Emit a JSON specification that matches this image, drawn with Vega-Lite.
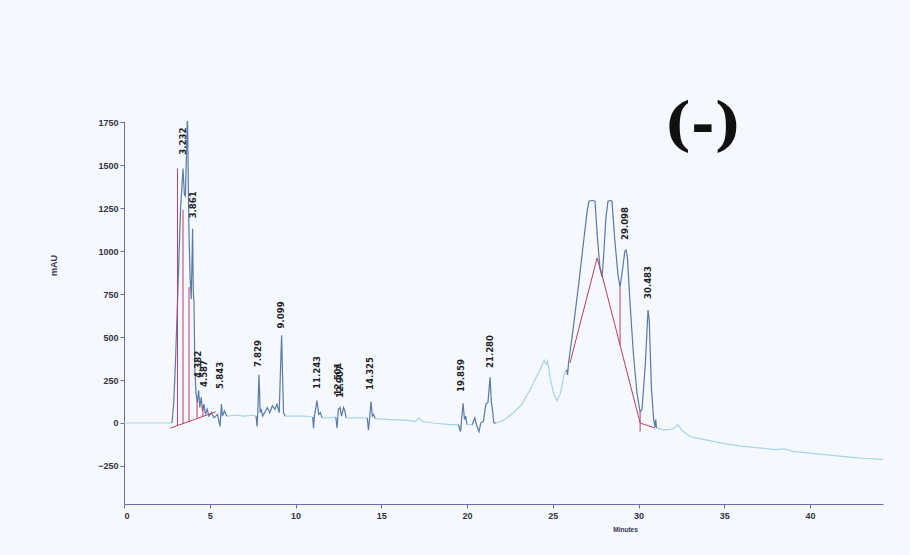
{
  "$schema": "https://vega.github.io/schema/vega-lite/v6.json",
  "width": 759,
  "height": 383,
  "autosize": "none",
  "padding": {"left": 124, "top": 121, "right": 27, "bottom": 51},
  "background": "#f5f8fc",
  "config": {"view": {"stroke": null}},
  "title": {"text": "(-)", "font": "DejaVu Serif", "fontSize": 57, "fontWeight": "bold", "color": "#111111", "anchor": "start", "frame": "group", "baseline": "alphabetic", "offset": 0, "dx": 540, "dy": 83},
  "datasets": {
    "trace": [
      {"t": 0, "v": 0, "s": 1, "k": "base"}, {"t": 1, "v": 0, "s": 1, "k": "base"}, {"t": 2, "v": 0, "s": 1, "k": "base"}, {"t": 2.8, "v": 0, "s": 1, "k": "base"},
      {"t": 2.8, "v": 0, "s": 2, "k": "peak"}, {"t": 2.9, "v": 120, "s": 2, "k": "peak"}, {"t": 3.0, "v": 350, "s": 2, "k": "peak"}, {"t": 3.1, "v": 650, "s": 2, "k": "peak"}, {"t": 3.2, "v": 950, "s": 2, "k": "peak"}, {"t": 3.3, "v": 1250, "s": 2, "k": "peak"}, {"t": 3.44, "v": 1480, "s": 2, "k": "peak"}, {"t": 3.52, "v": 1330, "s": 2, "k": "peak"}, {"t": 3.58, "v": 1320, "s": 2, "k": "peak"}, {"t": 3.7, "v": 1800, "s": 2, "k": "peak"}, {"t": 3.78, "v": 1150, "s": 2, "k": "peak"}, {"t": 3.85, "v": 850, "s": 2, "k": "peak"}, {"t": 3.92, "v": 720, "s": 2, "k": "peak"}, {"t": 4.0, "v": 1130, "s": 2, "k": "peak"}, {"t": 4.04, "v": 760, "s": 2, "k": "peak"}, {"t": 4.08, "v": 700, "s": 2, "k": "peak"}, {"t": 4.13, "v": 320, "s": 2, "k": "peak"}, {"t": 4.2, "v": 170, "s": 2, "k": "peak"}, {"t": 4.28, "v": 120, "s": 2, "k": "peak"}, {"t": 4.35, "v": 190, "s": 2, "k": "peak"}, {"t": 4.42, "v": 90, "s": 2, "k": "peak"}, {"t": 4.5, "v": 150, "s": 2, "k": "peak"}, {"t": 4.58, "v": 70, "s": 2, "k": "peak"}, {"t": 4.66, "v": 110, "s": 2, "k": "peak"}, {"t": 4.75, "v": 50, "s": 2, "k": "peak"}, {"t": 4.85, "v": 80, "s": 2, "k": "peak"}, {"t": 4.95, "v": 40, "s": 2, "k": "peak"}, {"t": 5.1, "v": 60, "s": 2, "k": "peak"}, {"t": 5.25, "v": 30, "s": 2, "k": "peak"}, {"t": 5.45, "v": 50, "s": 2, "k": "peak"}, {"t": 5.6, "v": -20, "s": 2, "k": "peak"}, {"t": 5.68, "v": 110, "s": 2, "k": "peak"}, {"t": 5.74, "v": 40, "s": 2, "k": "peak"}, {"t": 5.85, "v": 70, "s": 2, "k": "peak"}, {"t": 6.0, "v": 40, "s": 2, "k": "peak"},
      {"t": 6.0, "v": 40, "s": 3, "k": "base"}, {"t": 6.5, "v": 45, "s": 3, "k": "base"}, {"t": 7.0, "v": 40, "s": 3, "k": "base"}, {"t": 7.5, "v": 45, "s": 3, "k": "base"}, {"t": 7.7, "v": 40, "s": 3, "k": "base"},
      {"t": 7.7, "v": 40, "s": 4, "k": "peak"}, {"t": 7.76, "v": -20, "s": 4, "k": "peak"}, {"t": 7.8, "v": 60, "s": 4, "k": "peak"}, {"t": 7.87, "v": 280, "s": 4, "k": "peak"}, {"t": 7.94, "v": 60, "s": 4, "k": "peak"}, {"t": 8.0, "v": 80, "s": 4, "k": "peak"}, {"t": 8.08, "v": 40, "s": 4, "k": "peak"}, {"t": 8.2, "v": 60, "s": 4, "k": "peak"}, {"t": 8.35, "v": 90, "s": 4, "k": "peak"}, {"t": 8.5, "v": 60, "s": 4, "k": "peak"}, {"t": 8.65, "v": 100, "s": 4, "k": "peak"}, {"t": 8.8, "v": 80, "s": 4, "k": "peak"}, {"t": 8.92, "v": 110, "s": 4, "k": "peak"}, {"t": 9.05, "v": 60, "s": 4, "k": "peak"}, {"t": 9.12, "v": 300, "s": 4, "k": "peak"}, {"t": 9.19, "v": 510, "s": 4, "k": "peak"}, {"t": 9.25, "v": 250, "s": 4, "k": "peak"}, {"t": 9.3, "v": 60, "s": 4, "k": "peak"}, {"t": 9.4, "v": 40, "s": 4, "k": "peak"},
      {"t": 9.4, "v": 40, "s": 5, "k": "base"}, {"t": 10, "v": 40, "s": 5, "k": "base"}, {"t": 10.5, "v": 40, "s": 5, "k": "base"}, {"t": 11.0, "v": 35, "s": 5, "k": "base"},
      {"t": 11.0, "v": 35, "s": 6, "k": "peak"}, {"t": 11.05, "v": -30, "s": 6, "k": "peak"}, {"t": 11.1, "v": 40, "s": 6, "k": "peak"}, {"t": 11.25, "v": 130, "s": 6, "k": "peak"}, {"t": 11.35, "v": 50, "s": 6, "k": "peak"}, {"t": 11.45, "v": 60, "s": 6, "k": "peak"}, {"t": 11.55, "v": 30, "s": 6, "k": "peak"},
      {"t": 11.55, "v": 30, "s": 7, "k": "base"}, {"t": 12.0, "v": 30, "s": 7, "k": "base"}, {"t": 12.35, "v": 35, "s": 7, "k": "base"},
      {"t": 12.35, "v": 35, "s": 8, "k": "peak"}, {"t": 12.42, "v": -30, "s": 8, "k": "peak"}, {"t": 12.5, "v": 80, "s": 8, "k": "peak"}, {"t": 12.6, "v": 90, "s": 8, "k": "peak"}, {"t": 12.68, "v": 40, "s": 8, "k": "peak"}, {"t": 12.8, "v": 90, "s": 8, "k": "peak"}, {"t": 12.88, "v": 70, "s": 8, "k": "peak"}, {"t": 12.95, "v": 30, "s": 8, "k": "peak"},
      {"t": 12.95, "v": 30, "s": 9, "k": "base"}, {"t": 13.5, "v": 30, "s": 9, "k": "base"}, {"t": 14.18, "v": 30, "s": 9, "k": "base"},
      {"t": 14.18, "v": 30, "s": 10, "k": "peak"}, {"t": 14.25, "v": -40, "s": 10, "k": "peak"}, {"t": 14.32, "v": 30, "s": 10, "k": "peak"}, {"t": 14.4, "v": 125, "s": 10, "k": "peak"}, {"t": 14.48, "v": 40, "s": 10, "k": "peak"}, {"t": 14.55, "v": 50, "s": 10, "k": "peak"}, {"t": 14.65, "v": 25, "s": 10, "k": "peak"},
      {"t": 14.65, "v": 25, "s": 11, "k": "base"}, {"t": 15.5, "v": 20, "s": 11, "k": "base"}, {"t": 16.5, "v": 15, "s": 11, "k": "base"}, {"t": 17.0, "v": 10, "s": 11, "k": "base"}, {"t": 17.2, "v": 30, "s": 11, "k": "base"}, {"t": 17.35, "v": 10, "s": 11, "k": "base"}, {"t": 18, "v": 0, "s": 11, "k": "base"}, {"t": 19, "v": -10, "s": 11, "k": "base"}, {"t": 19.5, "v": -10, "s": 11, "k": "base"},
      {"t": 19.5, "v": -10, "s": 12, "k": "peak"}, {"t": 19.62, "v": -50, "s": 12, "k": "peak"}, {"t": 19.68, "v": 20, "s": 12, "k": "peak"}, {"t": 19.77, "v": 115, "s": 12, "k": "peak"}, {"t": 19.85, "v": 20, "s": 12, "k": "peak"}, {"t": 19.92, "v": 40, "s": 12, "k": "peak"}, {"t": 20.0, "v": -10, "s": 12, "k": "peak"},
      {"t": 20.0, "v": -10, "s": 13, "k": "base"}, {"t": 20.3, "v": -10, "s": 13, "k": "base"},
      {"t": 20.3, "v": -10, "s": 14, "k": "peak"}, {"t": 20.45, "v": 30, "s": 14, "k": "peak"}, {"t": 20.55, "v": -10, "s": 14, "k": "peak"}, {"t": 20.7, "v": -50, "s": 14, "k": "peak"}, {"t": 20.8, "v": 0, "s": 14, "k": "peak"}, {"t": 20.95, "v": 10, "s": 14, "k": "peak"}, {"t": 21.1, "v": 110, "s": 14, "k": "peak"}, {"t": 21.22, "v": 120, "s": 14, "k": "peak"}, {"t": 21.34, "v": 265, "s": 14, "k": "peak"}, {"t": 21.42, "v": 120, "s": 14, "k": "peak"}, {"t": 21.5, "v": 60, "s": 14, "k": "peak"}, {"t": 21.56, "v": 0, "s": 14, "k": "peak"}, {"t": 21.7, "v": 0, "s": 14, "k": "peak"},
      {"t": 21.7, "v": 0, "s": 15, "k": "base"}, {"t": 22.2, "v": 20, "s": 15, "k": "base"}, {"t": 22.7, "v": 60, "s": 15, "k": "base"}, {"t": 23.2, "v": 110, "s": 15, "k": "base"}, {"t": 23.6, "v": 180, "s": 15, "k": "base"}, {"t": 24.0, "v": 260, "s": 15, "k": "base"}, {"t": 24.3, "v": 320, "s": 15, "k": "base"}, {"t": 24.5, "v": 365, "s": 15, "k": "base"}, {"t": 24.6, "v": 340, "s": 15, "k": "base"}, {"t": 24.7, "v": 360, "s": 15, "k": "base"}, {"t": 24.85, "v": 260, "s": 15, "k": "base"}, {"t": 25.05, "v": 170, "s": 15, "k": "base"}, {"t": 25.25, "v": 130, "s": 15, "k": "base"}, {"t": 25.45, "v": 175, "s": 15, "k": "base"}, {"t": 25.65, "v": 280, "s": 15, "k": "base"}, {"t": 25.8, "v": 310, "s": 15, "k": "base"},
      {"t": 25.8, "v": 310, "s": 16, "k": "peak"}, {"t": 25.86, "v": 280, "s": 16, "k": "peak"}, {"t": 25.92, "v": 350, "s": 16, "k": "peak"}, {"t": 26.2, "v": 560, "s": 16, "k": "peak"}, {"t": 26.5, "v": 800, "s": 16, "k": "peak"}, {"t": 26.8, "v": 1060, "s": 16, "k": "peak"}, {"t": 27.0, "v": 1230, "s": 16, "k": "peak"}, {"t": 27.11, "v": 1290, "s": 16, "k": "peak"}, {"t": 27.3, "v": 1295, "s": 16, "k": "peak"}, {"t": 27.46, "v": 1290, "s": 16, "k": "peak"}, {"t": 27.6, "v": 1080, "s": 16, "k": "peak"}, {"t": 27.75, "v": 900, "s": 16, "k": "peak"}, {"t": 27.87, "v": 850, "s": 16, "k": "peak"}, {"t": 27.95, "v": 950, "s": 16, "k": "peak"}, {"t": 28.1, "v": 1200, "s": 16, "k": "peak"}, {"t": 28.22, "v": 1290, "s": 16, "k": "peak"}, {"t": 28.35, "v": 1295, "s": 16, "k": "peak"}, {"t": 28.45, "v": 1290, "s": 16, "k": "peak"}, {"t": 28.6, "v": 1080, "s": 16, "k": "peak"}, {"t": 28.8, "v": 860, "s": 16, "k": "peak"}, {"t": 28.92, "v": 790, "s": 16, "k": "peak"}, {"t": 29.05, "v": 880, "s": 16, "k": "peak"}, {"t": 29.2, "v": 1000, "s": 16, "k": "peak"}, {"t": 29.27, "v": 1006, "s": 16, "k": "peak"}, {"t": 29.35, "v": 960, "s": 16, "k": "peak"}, {"t": 29.5, "v": 700, "s": 16, "k": "peak"}, {"t": 29.7, "v": 400, "s": 16, "k": "peak"}, {"t": 29.9, "v": 180, "s": 16, "k": "peak"}, {"t": 30.09, "v": 64, "s": 16, "k": "peak"}, {"t": 30.2, "v": 80, "s": 16, "k": "peak"}, {"t": 30.4, "v": 350, "s": 16, "k": "peak"}, {"t": 30.55, "v": 657, "s": 16, "k": "peak"}, {"t": 30.62, "v": 600, "s": 16, "k": "peak"}, {"t": 30.75, "v": 200, "s": 16, "k": "peak"}, {"t": 30.88, "v": 20, "s": 16, "k": "peak"}, {"t": 30.96, "v": -25, "s": 16, "k": "peak"}, {"t": 31.0, "v": 20, "s": 16, "k": "peak"}, {"t": 31.05, "v": -30, "s": 16, "k": "peak"},
      {"t": 31.05, "v": -30, "s": 17, "k": "base"}, {"t": 31.5, "v": -40, "s": 17, "k": "base"}, {"t": 32.0, "v": -35, "s": 17, "k": "base"}, {"t": 32.3, "v": -10, "s": 17, "k": "base"}, {"t": 32.5, "v": -40, "s": 17, "k": "base"}, {"t": 33, "v": -80, "s": 17, "k": "base"}, {"t": 34, "v": -100, "s": 17, "k": "base"}, {"t": 35, "v": -120, "s": 17, "k": "base"}, {"t": 36, "v": -135, "s": 17, "k": "base"}, {"t": 37, "v": -145, "s": 17, "k": "base"}, {"t": 38, "v": -155, "s": 17, "k": "base"}, {"t": 38.5, "v": -150, "s": 17, "k": "base"}, {"t": 39, "v": -165, "s": 17, "k": "base"}, {"t": 40, "v": -175, "s": 17, "k": "base"}, {"t": 41, "v": -185, "s": 17, "k": "base"}, {"t": 42, "v": -195, "s": 17, "k": "base"}, {"t": 43, "v": -205, "s": 17, "k": "base"}, {"t": 44.25, "v": -211, "s": 17, "k": "base"}
    ],
    "integ": [
      {"t": 2.7, "v": -30, "g": "b1"}, {"t": 5.35, "v": 65, "g": "b1"},
      {"t": 3.12, "v": -15, "g": "d1"}, {"t": 3.12, "v": 1480, "g": "d1"},
      {"t": 3.44, "v": -4, "g": "d2"}, {"t": 3.44, "v": 1240, "g": "d2"},
      {"t": 3.79, "v": 9, "g": "d3"}, {"t": 3.79, "v": 790, "g": "d3"},
      {"t": 4.26, "v": 26, "g": "d4"}, {"t": 4.26, "v": 135, "g": "d4"},
      {"t": 4.6, "v": 38, "g": "d5"}, {"t": 4.6, "v": 100, "g": "d5"},
      {"t": 26.0, "v": 349, "g": "b2"}, {"t": 27.58, "v": 959, "g": "b2"}, {"t": 27.87, "v": 860, "g": "b2"}, {"t": 28.8, "v": 500, "g": "b2"}, {"t": 30.09, "v": 0, "g": "b2"}, {"t": 30.96, "v": -29, "g": "b2"},
      {"t": 28.92, "v": 455, "g": "d6"}, {"t": 28.92, "v": 790, "g": "d6"},
      {"t": 30.09, "v": -50, "g": "d7"}, {"t": 30.09, "v": 64, "g": "d7"}
    ],
    "labels": [
      {"t": 3.44, "v": 1560, "label": "3.232"},
      {"t": 4.02, "v": 1190, "label": "3.861"},
      {"t": 4.3, "v": 262, "label": "4.382"},
      {"t": 4.64, "v": 209, "label": "4.587"},
      {"t": 5.62, "v": 198, "label": "5.843"},
      {"t": 7.81, "v": 325, "label": "7.829"},
      {"t": 9.15, "v": 550, "label": "9.099"},
      {"t": 11.25, "v": 198, "label": "11.243"},
      {"t": 12.45, "v": 160, "label": "12.501"},
      {"t": 12.62, "v": 145, "label": "12.907"},
      {"t": 14.34, "v": 192, "label": "14.325"},
      {"t": 19.65, "v": 180, "label": "19.859"},
      {"t": 21.34, "v": 320, "label": "21.280"},
      {"t": 29.21, "v": 1064, "label": "29.098"},
      {"t": 30.55, "v": 721, "label": "30.483"}
    ]
  },
  "encoding": {
    "x": {"field": "t", "type": "quantitative", "scale": {"domain": [0, 44.25], "nice": false, "zero": false},
      "axis": {"values": [0, 5, 10, 15, 20, 25, 30, 35, 40], "grid": false, "title": "Minutes", "titleFontSize": 6.5, "titleFontWeight": "bold", "titleFont": "Liberation Sans", "titleColor": "#333355", "titleX": 501, "titleY": 25, "titleBaseline": "middle", "labelFont": "Liberation Sans", "labelFontSize": 9, "labelFontWeight": "bold", "labelColor": "#333344", "domainColor": "#6a6cab", "tickColor": "#6a6cab", "tickSize": 4, "labelPadding": 3}},
    "y": {"field": "v", "type": "quantitative", "scale": {"domain": [-471, 1756], "nice": false, "zero": false},
      "axis": {"values": [-250, 0, 250, 500, 750, 1000, 1250, 1500, 1750], "format": "d", "grid": false, "title": "mAU", "titleFontSize": 9, "titleFontWeight": "bold", "titleFont": "Liberation Sans", "titleColor": "#333355", "titleX": -66, "titleY": 144, "labelFont": "Liberation Sans", "labelFontSize": 9, "labelFontWeight": "bold", "labelColor": "#333344", "domainColor": "#6a6cab", "tickColor": "#6a6cab", "tickSize": 4, "labelPadding": 2}}
  },
  "layer": [
    {
      "data": {"name": "trace"},
      "mark": {"type": "line", "strokeWidth": 1.2, "clip": true},
      "encoding": {
        "detail": {"field": "s", "type": "nominal"},
        "color": {"field": "k", "type": "nominal", "scale": {"domain": ["base", "peak"], "range": ["#a9d3e6", "#5a7aa8"]}, "legend": null}
      }
    },
    {
      "data": {"name": "integ"},
      "mark": {"type": "line", "strokeWidth": 1, "color": "#b8406a", "clip": true},
      "encoding": {
        "detail": {"field": "g", "type": "nominal"}
      }
    },
    {
      "data": {"name": "labels"},
      "mark": {"type": "text", "angle": 270, "align": "left", "baseline": "middle", "font": "DejaVu Sans Condensed, Liberation Sans Narrow, Liberation Sans, sans-serif", "fontSize": 9.5, "fontWeight": "bold", "color": "#1e1e2a"},
      "encoding": {
        "text": {"field": "label"}
      }
    }
  ]
}
